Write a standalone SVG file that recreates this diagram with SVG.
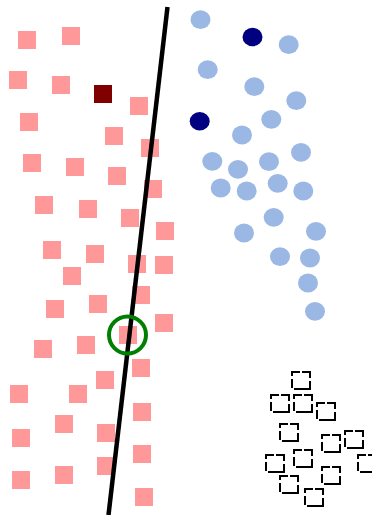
<svg xmlns="http://www.w3.org/2000/svg" width="372" height="515" viewBox="0 0 372 515">
<style>
.p{fill:#ff9999}
.b{fill:#9bb8e4}
.n{fill:#000080}
.d{fill:none;stroke:#000;stroke-width:2;stroke-dasharray:8 2 14 3 24 3 9 3 6 0}
</style>
<rect width="372" height="515" fill="#fff"/>
<g id="pink">
<rect class="p" x="18" y="31" width="18" height="18"/>
<rect class="p" x="62" y="27" width="18" height="18"/>
<rect class="p" x="9" y="71" width="18" height="18"/>
<rect class="p" x="52" y="76" width="18" height="18"/>
<rect class="p" x="130" y="97" width="18" height="18"/>
<rect class="p" x="20" y="113" width="18" height="18"/>
<rect class="p" x="105" y="127" width="18" height="18"/>
<rect class="p" x="141" y="139" width="18" height="18"/>
<rect class="p" x="23" y="154" width="18" height="18"/>
<rect class="p" x="66" y="158" width="18" height="18"/>
<rect class="p" x="108" y="167" width="18" height="18"/>
<rect class="p" x="144" y="180" width="18" height="18"/>
<rect class="p" x="35" y="196" width="18" height="18"/>
<rect class="p" x="79" y="200" width="18" height="18"/>
<rect class="p" x="121" y="209" width="18" height="18"/>
<rect class="p" x="156" y="222" width="18" height="18"/>
<rect class="p" x="43" y="241" width="18" height="18"/>
<rect class="p" x="86" y="245" width="18" height="18"/>
<rect class="p" x="128" y="255" width="18" height="18"/>
<rect class="p" x="155" y="256" width="18" height="18"/>
<rect class="p" x="63" y="267" width="18" height="18"/>
<rect class="p" x="132" y="286" width="18" height="18"/>
<rect class="p" x="46" y="300" width="18" height="18"/>
<rect class="p" x="89" y="295" width="18" height="18"/>
<rect class="p" x="155" y="314" width="18" height="18"/>
<rect class="p" x="119" y="326" width="18" height="18"/>
<rect class="p" x="34" y="340" width="18" height="18"/>
<rect class="p" x="77" y="336" width="18" height="18"/>
<rect class="p" x="132" y="359" width="18" height="18"/>
<rect class="p" x="96" y="371" width="18" height="18"/>
<rect class="p" x="10" y="385" width="18" height="18"/>
<rect class="p" x="69" y="385" width="18" height="18"/>
<rect class="p" x="133" y="403" width="18" height="18"/>
<rect class="p" x="55" y="415" width="18" height="18"/>
<rect class="p" x="12" y="429" width="18" height="18"/>
<rect class="p" x="97" y="424" width="18" height="18"/>
<rect class="p" x="133" y="445" width="18" height="18"/>
<rect class="p" x="97" y="457" width="18" height="18"/>
<rect class="p" x="55" y="466" width="18" height="18"/>
<rect class="p" x="12" y="471" width="18" height="18"/>
<rect class="p" x="135" y="488" width="18" height="18"/>
</g>
<g id="darkred"><rect x="94" y="85" width="18" height="18" fill="#800000"/></g>
<g id="blue">
<ellipse class="b" cx="200.5" cy="19.7" rx="10" ry="9.4"/>
<ellipse class="b" cx="288.7" cy="44.7" rx="10" ry="9.4"/>
<ellipse class="b" cx="207.7" cy="69.7" rx="10" ry="9.4"/>
<ellipse class="b" cx="254.3" cy="86.7" rx="10" ry="9.4"/>
<ellipse class="b" cx="296.3" cy="100.7" rx="10" ry="9.4"/>
<ellipse class="b" cx="271.3" cy="119.3" rx="10" ry="9.4"/>
<ellipse class="b" cx="242" cy="135" rx="10" ry="9.4"/>
<ellipse class="b" cx="301" cy="152.3" rx="10" ry="9.4"/>
<ellipse class="b" cx="212.3" cy="161.3" rx="10" ry="9.4"/>
<ellipse class="b" cx="238" cy="169.3" rx="10" ry="9.4"/>
<ellipse class="b" cx="269" cy="161.7" rx="10" ry="9.4"/>
<ellipse class="b" cx="220.7" cy="188" rx="10" ry="9.4"/>
<ellipse class="b" cx="246.7" cy="191" rx="10" ry="9.4"/>
<ellipse class="b" cx="277.7" cy="183.3" rx="10" ry="9.4"/>
<ellipse class="b" cx="303.3" cy="191" rx="10" ry="9.4"/>
<ellipse class="b" cx="273.7" cy="217.3" rx="10" ry="9.4"/>
<ellipse class="b" cx="244" cy="233" rx="10" ry="9.4"/>
<ellipse class="b" cx="316" cy="231.3" rx="10" ry="9.4"/>
<ellipse class="b" cx="280" cy="256.7" rx="10" ry="9.4"/>
<ellipse class="b" cx="310" cy="258" rx="10" ry="9.4"/>
<ellipse class="b" cx="308" cy="283" rx="10" ry="9.4"/>
<ellipse class="b" cx="315" cy="311.3" rx="10" ry="9.4"/>
</g>
<g id="navy">
<ellipse class="n" cx="252.5" cy="37" rx="10" ry="9.2"/>
<ellipse class="n" cx="199.7" cy="121.3" rx="10" ry="9.2"/>
</g>
<g id="dashed">
<rect class="d" x="292" y="372" width="18" height="17"/>
<rect class="d" x="271" y="395" width="18" height="17"/>
<rect class="d" x="294" y="395" width="18" height="17"/>
<rect class="d" x="317" y="403" width="18" height="17"/>
<rect class="d" x="280" y="424" width="18" height="17"/>
<rect class="d" x="322" y="435" width="18" height="17"/>
<rect class="d" x="345" y="431" width="18" height="17"/>
<rect class="d" x="266" y="455" width="18" height="17"/>
<rect class="d" x="294" y="450" width="18" height="17"/>
<rect class="d" x="358" y="455" width="18" height="17"/>
<rect class="d" x="322" y="467" width="18" height="17"/>
<rect class="d" x="280" y="476" width="18" height="17"/>
<rect class="d" x="305" y="489" width="18" height="17"/>
</g>
<g id="connectors">
<line x1="167.5" y1="7" x2="108.5" y2="515" stroke="#000" stroke-width="4.5"/>
</g>
<g id="highlight"><circle cx="127.5" cy="335" r="18.5" fill="none" stroke="#008000" stroke-width="4"/></g>
</svg>
